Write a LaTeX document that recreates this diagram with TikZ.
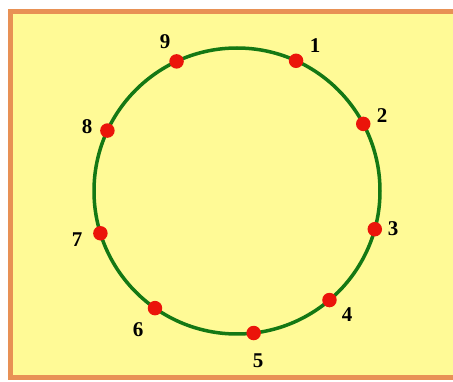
\documentclass[tikz,border=0pt]{standalone}
\usepackage{fontspec}
\setmainfont{Liberation Serif}
\usetikzlibrary{calc}
\definecolor{bgyellow}{RGB}{255,250,150}
\definecolor{frameorange}{RGB}{232,145,85}
\definecolor{ringgreen}{RGB}{20,120,20}
\definecolor{dotred}{RGB}{235,20,10}
\begin{document}
\begin{tikzpicture}[x=1pt,y=-1pt,
  dot/.style={circle,fill=dotred,inner sep=0pt,minimum size=14.5pt},
  lbl/.style={font=\fontsize{21}{21}\selectfont\bfseries,inner sep=0pt}]
\useasboundingbox (0,0) rectangle (453,382);
\fill[white] (0,0) rectangle (453,382);
\draw[fill=bgyellow,draw=frameorange,line width=4.5pt] (10.5,11.5) rectangle (470,377.5);
\coordinate (c) at (237,191);
\draw[ringgreen,line width=3.5pt] (c) circle[radius=143];
\foreach \n/\a in {1/65.6,2/28,3/-15.5,4/-49.7,5/-83.3,6/-125,7/-162.8,8/155,9/115}{
  \node[dot] (p\n) at ($(c)+(-\a:143)$) {};
}
\node[lbl] (l1) at (315,46) {1};
\node[lbl] (l2) at (382,116) {2};
\node[lbl] (l3) at (393,229) {3};
\node[lbl] (l4) at (347,315) {4};
\node[lbl] (l5) at (258,361) {5};
\node[lbl] (l6) at (138,330) {6};
\node[lbl] (l7) at (77,240) {7};
\node[lbl] (l8) at (87,127) {8};
\node[lbl] (l9) at (165,42) {9};
\end{tikzpicture}
\end{document}
